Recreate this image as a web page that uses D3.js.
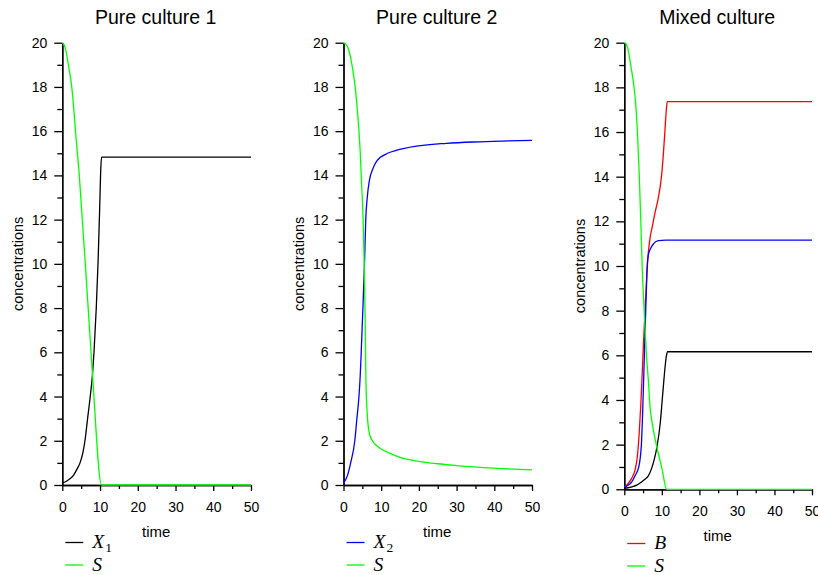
<!DOCTYPE html>
<html>
<head>
<meta charset="utf-8">
<script src="https://cdn.jsdelivr.net/npm/d3@7"></script>
<style>
  body { margin: 0; background: #fff; }
  text { font-family: Arial, "Liberation Sans", sans-serif; }
</style>
</head>
<body>
<div id="chart"></div>
<script>
// tick values
const xMajor = [0, 10, 20, 30, 40, 50];
const xMinor = [5, 15, 25, 35, 45];
const yMajor = [0, 2, 4, 6, 8, 10, 12, 14, 16, 18, 20];
const yMinor = [1, 3, 5, 7, 9, 11, 13, 15, 17, 19];

// Pure culture 1  [time, value]
const pure1X1 = [[0, 0.1], [1, 0.16], [2, 0.28], [3, 0.45], [4, 0.75], [4.7, 1.0], [5.5, 1.5],
  [6, 2.0], [6.7, 3.0], [7.4, 4.0], [8, 5.0], [8.4, 6.0], [9, 8.0], [9.5, 10.2], [9.9, 12.5],
  [10.2, 14.3], [10.4, 14.83], [50, 14.83]];
const pure1S = [[0, 20], [0.5, 19.9], [1, 19.6], [1.6, 19], [2, 18.6], [2.5, 18], [3, 17.1],
  [3.5, 16], [4.5, 14], [5.3, 12], [6.1, 10], [8, 5], [10.4, 0], [50, 0]];

// Pure culture 2
const pure2X2 = [[0, 0.1], [1, 0.4], [1.9, 1], [3, 2], [3.55, 3], [4.1, 4], [4.45, 5], [4.7, 6],
  [5.15, 8], [5.6, 10.2], [5.9, 12], [6.3, 13], [6.9, 13.8], [7.8, 14.3], [8.8, 14.65],
  [11.7, 15.0], [14.4, 15.15], [18.5, 15.3], [27.3, 15.45], [36.2, 15.52], [50, 15.58]];
const pure2S = [[0, 20], [1, 19.85], [1.5, 19.6], [2.25, 19], [3.1, 18], [3.65, 17], [4.1, 16],
  [4.45, 15], [4.7, 14], [5.2, 12], [5.5, 10], [5.7, 8], [5.85, 6], [5.95, 4.75], [6.3, 3.2],
  [6.6, 2.6], [7, 2.25], [7.5, 2.05], [8, 1.92], [9, 1.75], [10, 1.63], [12.5, 1.42],
  [15, 1.25], [20, 1.07], [25, 0.96], [30, 0.88], [40, 0.76], [50, 0.68]];

// Mixed culture
const mixB = [[0, 0.1], [1, 0.25], [2, 0.5], [2.85, 0.86], [3.5, 1.5], [4, 2.6], [4.4, 3.8],
  [4.7, 4.9], [5.1, 6.5], [5.6, 8.3], [6.0, 9.6], [6.4, 10.6], [6.9, 11.3], [7.5, 11.8],
  [8.2, 12.4], [9.0, 13.0], [9.9, 14.0], [10.4, 15], [10.8, 16], [11.2, 17], [11.45, 17.36],
  [50, 17.36]];
const mixX2 = [[0, 0.1], [1, 0.18], [2, 0.33], [2.85, 0.6], [3.85, 1.0], [4.55, 2.0], [4.9, 3.5],
  [5.15, 4.9], [5.8, 8.5], [6.1, 10], [6.4, 10.5], [6.9, 10.75], [7.8, 11.0], [9.1, 11.14],
  [11, 11.16], [50, 11.16]];
const mixX1 = [[0, 0.05], [1, 0.07], [2, 0.11], [3.3, 0.19], [4.5, 0.32], [5.5, 0.45],
  [6.4, 0.6], [7.3, 0.95], [8.0, 1.35], [8.7, 1.9], [9.6, 3.0], [10.1, 4.0], [10.6, 5.0],
  [11.0, 5.7], [11.3, 6.05], [11.5, 6.16], [50, 6.16]];
const mixS = [[0, 20], [0.5, 19.95], [1, 19.7], [1.7, 19], [2.6, 18], [3.15, 17], [3.5, 16],
  [4, 14], [4.4, 12], [4.75, 10], [5.3, 8], [5.9, 6], [6.4, 4.9], [6.9, 3.6], [7.3, 3.1],
  [8.6, 1.95], [10, 0.95], [11.3, 0], [50, 0]];

const panels = [
  { title: "Pure culture 1", x0: 62.3, x1: 251, yTop: 42.7, yBot: 485, legY: 542.5,
    lines: [[pure1X1, "#000000"], [pure1S, "#00ff00"]],
    legend: [["X", "1", "#000000"], ["S", "", "#00ff00"]] },
  { title: "Pure culture 2", x0: 343.5, x1: 532, yTop: 42.7, yBot: 485, legY: 542.5,
    lines: [[pure2X2, "#0000ff"], [pure2S, "#00ff00"]],
    legend: [["X", "2", "#0000ff"], ["S", "", "#00ff00"]] },
  { title: "Mixed culture", x0: 624.3, x1: 812, yTop: 42.7, yBot: 489.3, legY: 543.5,
    lines: [[mixB, "#ff0000"], [mixX2, "#0000ff"], [mixX1, "#000000"], [mixS, "#00ff00"]],
    legend: [["B", "", "#ff0000"], ["S", "", "#00ff00"]] }
];

const svg = d3.select("#chart").append("svg")
  .attr("width", 818).attr("height", 575);

panels.forEach((p) => {
  const x = d3.scaleLinear().domain([0, 50]).range([p.x0, p.x1]);
  const y = d3.scaleLinear().domain([0, 20]).range([p.yBot, p.yTop]);
  const g = svg.append("g");

  // minor ticks first
  g.append("g").attr("transform", `translate(${p.x0},0)`)
    .call(d3.axisLeft(y).tickValues(yMinor).tickSize(5).tickFormat("").tickSizeOuter(0));
  g.append("g").attr("transform", `translate(0,${p.yBot})`)
    .call(d3.axisBottom(x).tickValues(xMinor).tickSize(4).tickFormat("").tickSizeOuter(0));

  g.append("g").attr("transform", `translate(${p.x0},0)`)
    .call(d3.axisLeft(y).tickValues(yMajor).tickSize(8).tickPadding(7).tickSizeOuter(0));
  g.append("g").attr("transform", `translate(0,${p.yBot})`)
    .call(d3.axisBottom(x).tickValues(xMajor).tickSize(6).tickPadding(11).tickSizeOuter(0));

  g.selectAll(".domain, .tick line").attr("stroke", "#000").attr("stroke-width", 1.3);
  g.selectAll(".tick text").attr("font-size", 14).attr("fill", "#000")
    .style("font-family", "Arial, 'Liberation Sans', sans-serif");

  const line = d3.line().x((d) => x(d[0])).y((d) => y(d[1])).curve(d3.curveMonotoneX);
  p.lines.forEach(([data, color]) => {
    g.append("path").datum(data)
      .attr("d", line)
      .attr("fill", "none")
      .attr("stroke", color)
      .attr("stroke-width", 1.3);
  });

  const mid = (p.x0 + p.x1) / 2;
  g.append("text").text(p.title)
    .attr("x", mid - 1).attr("y", 24)
    .attr("text-anchor", "middle").attr("font-size", 19.5);

  g.append("text").text("time")
    .attr("x", mid - 0.5).attr("y", p.yBot + 52)
    .attr("text-anchor", "middle").attr("font-size", 15);

  g.append("text").text("concentrations")
    .attr("transform", `translate(${p.x0 - 39.5},${(p.yTop + p.yBot) / 2}) rotate(-90)`)
    .attr("text-anchor", "middle").attr("font-size", 14.5);

  // legend
  p.legend.forEach(([name, sub, color], i) => {
    const ly = p.legY + i * 22.5;
    g.append("line")
      .attr("x1", p.x0 + 3).attr("x2", p.x0 + 21)
      .attr("y1", ly).attr("y2", ly)
      .attr("stroke", color).attr("stroke-width", 1.3);
    const t = g.append("text")
      .attr("x", p.x0 + 30).attr("y", ly + 5.5)
      .style("font-family", "'Liberation Serif', 'DejaVu Serif', serif")
      .attr("font-size", 19.5);
    t.append("tspan").text(name).attr("font-style", "italic");
    if (sub) t.append("tspan").text(sub).attr("font-size", 13.5).attr("dy", 4).attr("dx", 1);
  });
});
</script>
</body>
</html>
